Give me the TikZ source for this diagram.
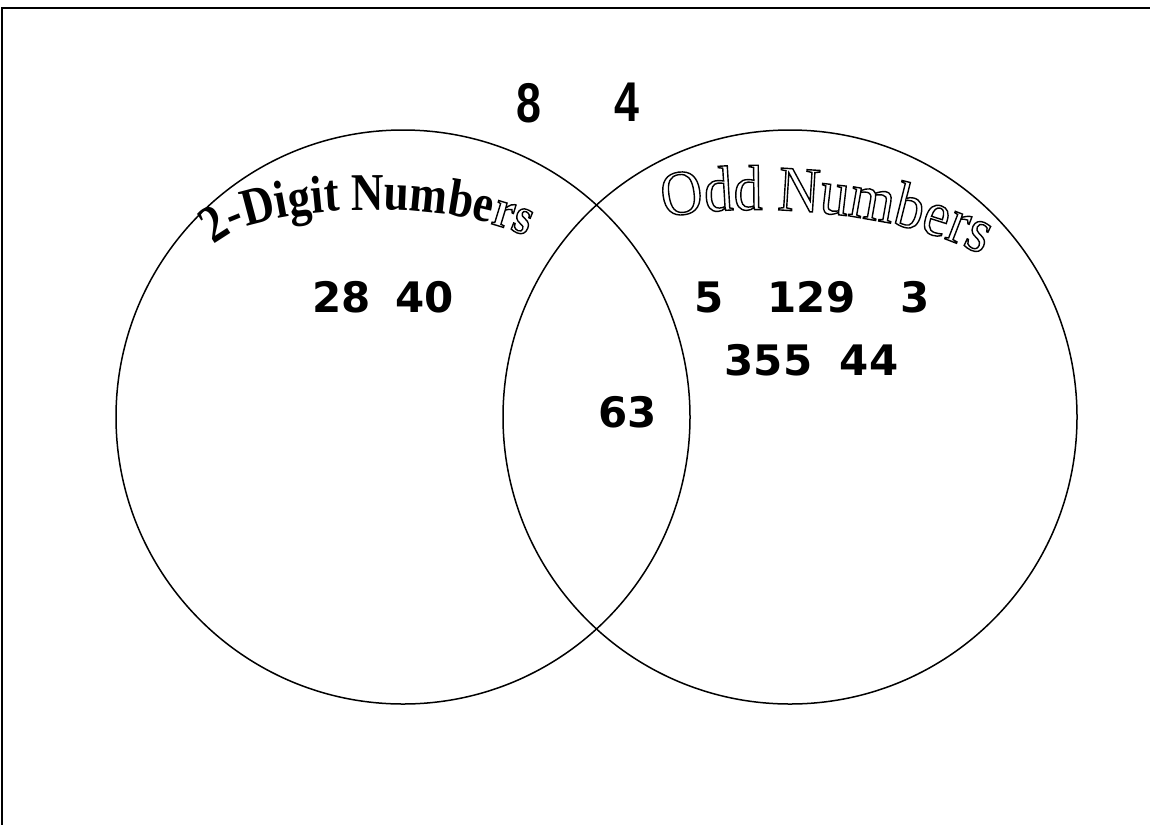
\documentclass[tikz,border=0pt]{standalone}
\usepackage{fontspec}
\setmainfont{Liberation Serif}
\newfontfamily\numfont{DejaVu Sans}
\newfontfamily\narrowfont{Liberation Sans}
\newfontfamily\wordartA{Liberation Serif}[FakeStretch=0.85]
\newfontfamily\wordartB{Liberation Serif}[FakeStretch=0.9]
\usetikzlibrary{decorations.text}
\newcommand{\outlon}{\special{pdf:literal direct 1 Tr 1.4 w}}
\tikzset{
  frameline/.style={line width=2.2pt},
  setcircle/.style={draw, circle, line width=1.5pt, minimum size=574pt, inner sep=0pt},
  num/.style={font=\numfont\bfseries\fontsize{42}{44}\selectfont, anchor=base, inner sep=0pt},
  bignum/.style={font=\narrowfont\bfseries\fontsize{56}{60}\selectfont, anchor=base, inner sep=0pt, xscale=0.8}
}
\begin{document}
\begin{tikzpicture}[x=1pt,y=-1pt]
\useasboundingbox (0,0) rectangle (1150,825);
\coordinate (tl) at (2,8);
\coordinate (tr) at (1150,8);
\coordinate (bl) at (2,825);
\draw[frameline] (tr) -- (tl) -- (bl);

\node[setcircle] (A) at (403,417) {};
\node[setcircle] (B) at (790,417) {};

\node[bignum] (t8) at (529,122) {8};
\node[bignum] (t4) at (627,121) {4};

\node[num] (n28) at (341.5,312) {28};
\node[num] (n40) at (424.5,312) {40};
\node[num] (n5) at (709,312) {5};
\node[num] (n129) at (811.5,312) {129};
\node[num] (n3) at (915,312) {3};
\node[num] (n355) at (768.5,375) {355};
\node[num] (n44) at (869,375) {44};
\node[num] (n63) at (627.5,427) {63};

\path[decorate, decoration={text along path, text align=left,
  text={|\wordartA\fontsize{53}{56}\selectfont\bfseries|2-Digit Numbe|\wordartA\fontsize{53}{56}\selectfont\bfseries\outlon|rs}}]
  (214,245) .. controls (260,200) and (468,197) .. (540,244);

\path[decorate, decoration={text along path, text align=left,
  text={|\wordartB\fontsize{64}{68}\selectfont\outlon|Odd Numbers}}]
  (664,218) .. controls (724,203) and (900,203) .. (998,264);
\end{tikzpicture}
\end{document}
